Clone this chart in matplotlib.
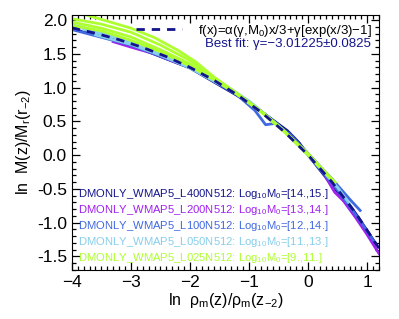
import numpy as np
import matplotlib
matplotlib.use("Agg")
import matplotlib.pyplot as plt
from matplotlib.ticker import MultipleLocator, FormatStrFormatter

plt.rcParams['font.family'] = ['Liberation Sans', 'DejaVu Sans']
plt.rcParams['mathtext.fontset'] = 'custom'
plt.rcParams['mathtext.rm'] = 'Liberation Sans'
plt.rcParams['mathtext.it'] = 'Liberation Sans:italic'

# best fit curve
fit_x = [-4.0, -3.6, -3.2, -2.8, -2.4, -2.0, -1.6, -1.2, -0.8, -0.4, 0.0, 0.4, 0.8, 1.2]
fit_y = [1.885, 1.805, 1.709, 1.594, 1.459, 1.299, 1.112, 0.893, 0.639, 0.343, 0.0, -0.396, -0.854, -1.381]

# simulation curves (x list, y list) per box
navy_lines = [
    ([-4.0, -3.5, -3.0, -2.5, -2.0, -1.5, -1.0, -0.5, 0.0, 0.5, 0.8, 1.0, 1.15],
     [1.87, 1.76, 1.64, 1.48, 1.30, 1.07, 0.79, 0.44, 0.02, -0.50, -0.86, -1.12, -1.32]),
    ([-3.0, -2.0, -1.0, -0.35, -0.15, 0.0, 0.5, 0.9, 1.1],
     [1.63, 1.29, 0.78, 0.36, 0.18, 0.0, -0.55, -1.02, -1.30]),
]
purple_lines = [
    ([-3.3, -3.0, -2.6, -2.2], [1.68, 1.60, 1.50, 1.36]),
    ([0.3, 0.45, 0.6, 0.8, 1.0, 1.2], [-0.33, -0.55, -0.68, -0.92, -1.18, -1.46]),
]
blue_lines = [
    ([-4.0, -3.0, -2.0, -1.2, -0.9, -0.72, -0.55, -0.3, 0.0, 0.4, 0.7, 0.88],
     [1.86, 1.63, 1.30, 0.89, 0.66, 0.45, 0.47, 0.30, 0.02, -0.35, -0.65, -0.82]),
    ([0.0, 0.5, 0.9, 1.1], [0.0, -0.52, -1.0, -1.26]),
]
lblue_lines = [
    ([-4.0, -3.5, -3.0, -2.5, -2.0, -1.5, -1.0, -0.5, 0.0, 0.5, 0.7],
     [1.93, 1.83, 1.69, 1.51, 1.31, 1.09, 0.80, 0.44, 0.0, -0.48, -0.72]),
    ([-3.8, -3.2, -2.6, -2.2], [1.86, 1.73, 1.55, 1.40]),
    ([-3.6, -3.0, -2.5, -2.0, -1.5], [1.78, 1.64, 1.48, 1.29, 1.05]),
]
green_lines = [
    ([-3.85, -3.5, -3.0, -2.6, -2.2, -1.9, -1.6, -1.2, -0.8, -0.4, 0.0, 0.45],
     [2.10, 2.01, 1.88, 1.74, 1.55, 1.38, 1.16, 0.91, 0.65, 0.35, 0.01, -0.40]),
    ([-4.0, -3.5, -3.0, -2.5, -2.0, -1.6, -1.2, -0.8, -0.4, 0.0, 0.45],
     [2.02, 1.94, 1.82, 1.63, 1.40, 1.15, 0.91, 0.65, 0.35, 0.02, -0.41]),
    ([-4.0, -3.5, -3.0, -2.5, -2.0, -1.6, -1.2, -0.8, -0.4, 0.0, 0.45],
     [1.97, 1.88, 1.75, 1.56, 1.35, 1.13, 0.90, 0.64, 0.35, 0.01, -0.40]),
    ([-4.0, -3.5, -3.0, -2.5, -2.0, -1.6, -1.2, -0.8, -0.4, 0.0, 0.45],
     [1.92, 1.84, 1.70, 1.53, 1.32, 1.12, 0.90, 0.645, 0.345, 0.0, -0.41]),
]

sim_names = ["DMONLY_WMAP5_L400N512", "DMONLY_WMAP5_L200N512", "DMONLY_WMAP5_L100N512",
             "DMONLY_WMAP5_L050N512", "DMONLY_WMAP5_L025N512"]
mass_ranges = ["[14.,15.]", "[13.,14.]", "[12.,14.]", "[11.,13.]", "[9.,11.]"]
colors = ["#14148c", "#a020f0", "#4169e1", "#87ceeb", "#adff2f"]
all_lines = [navy_lines, purple_lines, blue_lines, lblue_lines, green_lines]

fig = plt.figure(figsize=(3.99, 3.19), dpi=100)
ax = fig.add_axes([0.18, 0.154, 0.77, 0.8])

for lines, c in zip(all_lines, colors):
    for xs, ys in lines:
        ax.plot(xs, ys, color=c, lw=2, solid_joinstyle='round')

ax.plot(fit_x, fit_y, color="#14148c", lw=2, ls=(0, (3, 2.5)))

ax.set_xlim(-4, 1.2)
ax.set_ylim(-1.7, 2.08)
ax.xaxis.set_major_locator(MultipleLocator(1))
ax.xaxis.set_minor_locator(MultipleLocator(0.1))
ax.yaxis.set_major_locator(MultipleLocator(0.5))
ax.yaxis.set_minor_locator(MultipleLocator(0.1))
ax.yaxis.set_major_formatter(FormatStrFormatter('%.1f'))
ax.tick_params(which='both', direction='in', top=True, right=True, labelsize=12.5, width=0.9)
ax.tick_params(which='major', length=6)
ax.tick_params(which='minor', length=3)

ax.set_xlabel(r"ln  ρ$_\mathrm{m}$(z)/ρ$_\mathrm{m}$(z$_\mathrm{-2}$)", fontsize=11.5, labelpad=1)
ax.set_ylabel(r"ln  M(z)/M$_\mathrm{r}$(r$_\mathrm{-2}$)", fontsize=11.5, labelpad=3)

# fit legend top right
ax.plot([-2.91, -2.13], [1.87, 1.87], color="#14148c", lw=2, ls=(0, (3, 2.5)))
ax.text(0.975, 0.925, r"f(x)=α(γ,M$_\mathrm{0}$)x/3+γ[exp(x/3)−1]", transform=ax.transAxes,
        ha='right', va='baseline', fontsize=9.5, color='black')
ax.text(0.975, 0.873, "Best fit: γ=−3.01225±0.0825", transform=ax.transAxes,
        ha='right', va='baseline', fontsize=9.5, color="#14148c")

# simulation legend lower left
for i, (name, mr, c) in enumerate(zip(sim_names, mass_ranges, colors)):
    ax.text(0.02, 0.297 - i * 0.063, name + r": Log$_\mathrm{10}$M$_\mathrm{0}$=" + mr,
            transform=ax.transAxes, ha='left', va='center', fontsize=8.1, color=c)

fig.savefig("out.png", dpi=100)
